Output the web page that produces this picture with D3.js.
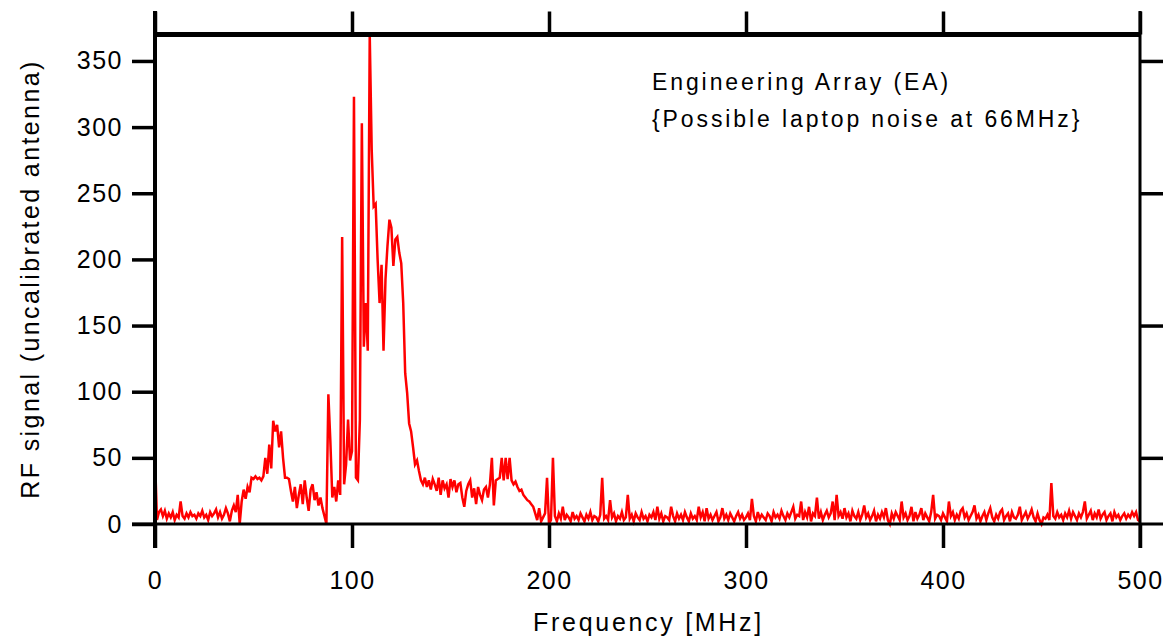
<!DOCTYPE html>
<html>
<head>
<meta charset="utf-8">
<script src="https://cdn.jsdelivr.net/npm/d3@7"></script>
<style>
  body { margin: 0; background: #fff; }
  svg { font-family: "Liberation Sans", Arial, sans-serif; }
  .axis .domain { display: none; }
  .axis line { stroke: #000; stroke-width: 3.5; }
  .axis text { font-size: 25px; fill: #000; letter-spacing: 1.5px; }
</style>
</head>
<body>
<div id="chart-area"></div>
<script>
// spectrum, one value per MHz from 0 to 500
let freqStart = 0, freqStep = 1;
let signal = [
  50, 3, 9, 11, 6, 10, 4, 8, 5, 9,
  3, 7, 5, 17, 6, 4, 8, 5, 9, 6,
  7, 4, 8, 6, 10, 5, 7, 3, 9, 6,
  8, 11, 5, 9, 4, 7, 12, 8, 2, 10,
  14, 9, 22, 0, 17, 26, 19, 28, 24, 35,
  34, 36, 34, 35, 33, 36, 50, 38, 60, 42,
  78, 70, 75, 58, 70, 50, 35, 35, 34, 25,
  17, 28, 12, 22, 30, 15, 33, 20, 10, 26,
  30, 18, 24, 14, 20, 12, 6, 0, 98, 63,
  20, 28, 17, 33, 22, 217, 30, 45, 79, 48,
  55, 323, 35, 33, 79, 303, 134, 167, 131, 370,
  283, 240, 242, 200, 167, 196, 131, 185, 210, 230,
  224, 195, 215, 217, 205, 197, 167, 114, 99, 76,
  70, 58, 45, 48, 40, 33, 30, 35, 28, 33,
  26, 34, 30, 25, 35, 22, 33, 27, 30, 20,
  34, 28, 33, 24, 30, 31, 20, 13, 25, 30,
  33, 20, 27, 15, 28, 22, 18, 26, 28, 20,
  30, 50, 14, 33, 34, 35, 50, 33, 50, 34,
  50, 33, 30, 32, 28, 25, 26, 22, 20, 18,
  17, 15, 13, 8, 3, 12, 2, 5, 8, 35,
  0, 3, 50, 6, 2, 8, 4, 13, 3, 7,
  5, 2, 9, 4, 6, 3, 8, 5, 2, 7,
  4, 9, 3, 6, 5, 2, 7, 35, 4, 6,
  3, 18, 5, 8, 2, 6, 4, 9, 3, 5,
  22, 4, 7, 2, 8, 5, 3, 9, 4, 6,
  2, 7, 5, 9, 3, 13, 4, 8, 2, 6,
  5, 3, 13, 6, 2, 8, 4, 7, 3, 9,
  5, 2, 8, 4, 6, 3, 13, 5, 9, 2,
  12, 4, 7, 3, 6, 9, 2, 5, 12, 4,
  7, 3, 8, 5, 2, 6, 9, 4, 7, 3,
  5, 8, 3, 19, 6, 2, 9, 4, 7, 5,
  3, 8, 6, 2, 9, 5, 7, 4, 10, 6,
  3, 8, 5, 9, 13, 4, 7, 6, 17, 3,
  9, 5, 13, 2, 8, 6, 20, 4, 9, 3,
  7, 10, 5, 8, 17, 3, 22, 6, 9, 4,
  12, 5, 8, 2, 10, 6, 4, 9, 3, 7,
  14, 5, 8, 3, 6, 10, 2, 7, 4, 9,
  5, 12, 3, 0, 8, 4, 9, 6, 3, 17,
  5, 8, 3, 6, 13, 2, 9, 4, 7, 12,
  3, 8, 5, 2, 9, 22, 4, 7, 6, 3,
  8, 5, 2, 17, 6, 9, 3, 7, 4, 10,
  12, 5, 8, 3, 6, 9, 14, 4, 7, 2,
  6, 9, 3, 8, 12, 5, 2, 7, 4, 9,
  11, 3, 6, 8, 2, 9, 5, 4, 7, 13,
  3, 6, 9, 4, 7, 11, 5, 2, 8, 3,
  0, 5, 4, 7, 3, 31, 6, 4, 9, 5,
  7, 3, 8, 5, 10, 4, 9, 6, 3, 8,
  5, 9, 17, 4, 7, 10, 3, 8, 5, 11,
  4, 7, 9, 3, 6, 8, 2, 9, 5, 7,
  3, 6, 8, 4, 7, 5, 9, 6, 9, 3,
  2
];

let xTicks = [0, 100, 200, 300, 400, 500];
let yTicks = [0, 50, 100, 150, 200, 250, 300, 350];
let yTicksRight = [50, 150, 250, 350];
let note = ["Engineering Array (EA)", "{Possible laptop noise at 66MHz}"];

let W = 1170, H = 640;
let svg = d3.select("#chart-area").append("svg")
    .attr("width", W)
    .attr("height", H);

// Scales
let x = d3.scaleLinear().domain([0, 500]).range([155, 1140]);
let y = d3.scaleLinear().domain([0, 370]).range([524, 34.5]);

// the trace
let data = signal.map((v, i) => ({f: freqStart + i * freqStep, v: v}));
let line = d3.line()
    .x(d => x(d.f))
    .y(d => y(d.v));

svg.append("path")
    .datum(data)
    .attr("fill", "none")
    .attr("stroke", "#ff0000")
    .attr("stroke-width", 2.5)
    .attr("stroke-linejoin", "miter")
    .attr("d", line);

// Axes
svg.append("g")
    .attr("class", "axis")
    .attr("transform", `translate(${x(0)},0)`)
    .call(d3.axisLeft(y).tickValues(yTicks).tickSize(23).tickPadding(9));

svg.append("g")
    .attr("class", "axis")
    .attr("transform", `translate(${x(500)},0)`)
    .call(d3.axisRight(y).tickValues(yTicksRight).tickSize(23).tickFormat(""));

svg.append("g")
    .attr("class", "axis")
    .attr("transform", `translate(0,${y(0)})`)
    .call(d3.axisBottom(x).tickValues(xTicks).tickSize(24).tickPadding(23));

svg.append("g")
    .attr("class", "axis")
    .attr("transform", `translate(0,${y(370)})`)
    .call(d3.axisTop(x).tickValues(xTicks).tickSize(23).tickFormat(""));

// frame lines
svg.append("line")
    .attr("x1", x(0)).attr("x2", x(0))
    .attr("y1", 11).attr("y2", 548)
    .attr("stroke", "#000").attr("stroke-width", 4);
svg.append("line")
    .attr("x1", x(500)).attr("x2", x(500))
    .attr("y1", 11).attr("y2", 548)
    .attr("stroke", "#000").attr("stroke-width", 3);
svg.append("line")
    .attr("x1", x(0)).attr("x2", x(500))
    .attr("y1", y(370)).attr("y2", y(370))
    .attr("stroke", "#000").attr("stroke-width", 5);
svg.append("line")
    .attr("x1", x(0) - 23).attr("x2", x(500) + 23)
    .attr("y1", y(0)).attr("y2", y(0))
    .attr("stroke", "#000").attr("stroke-width", 3);

// axis titles
svg.append("text")
    .attr("x", (x(0) + x(500)) / 2 + 1)
    .attr("y", 631)
    .attr("text-anchor", "middle")
    .attr("font-size", 25)
    .attr("letter-spacing", 2.7)
    .text("Frequency [MHz]");

svg.append("text")
    .attr("transform", "translate(39,279) rotate(-90)")
    .attr("text-anchor", "middle")
    .attr("font-size", 25)
    .attr("letter-spacing", 2.4)
    .text("RF signal (uncalibrated antenna)");

// annotation
svg.selectAll(".note")
    .data(note)
    .enter().append("text")
    .attr("class", "note")
    .attr("x", 652)
    .attr("y", (d, i) => 90 + i * 37)
    .attr("font-size", 23)
    .attr("letter-spacing", 2.9)
    .text(d => d);
</script>
</body>
</html>
